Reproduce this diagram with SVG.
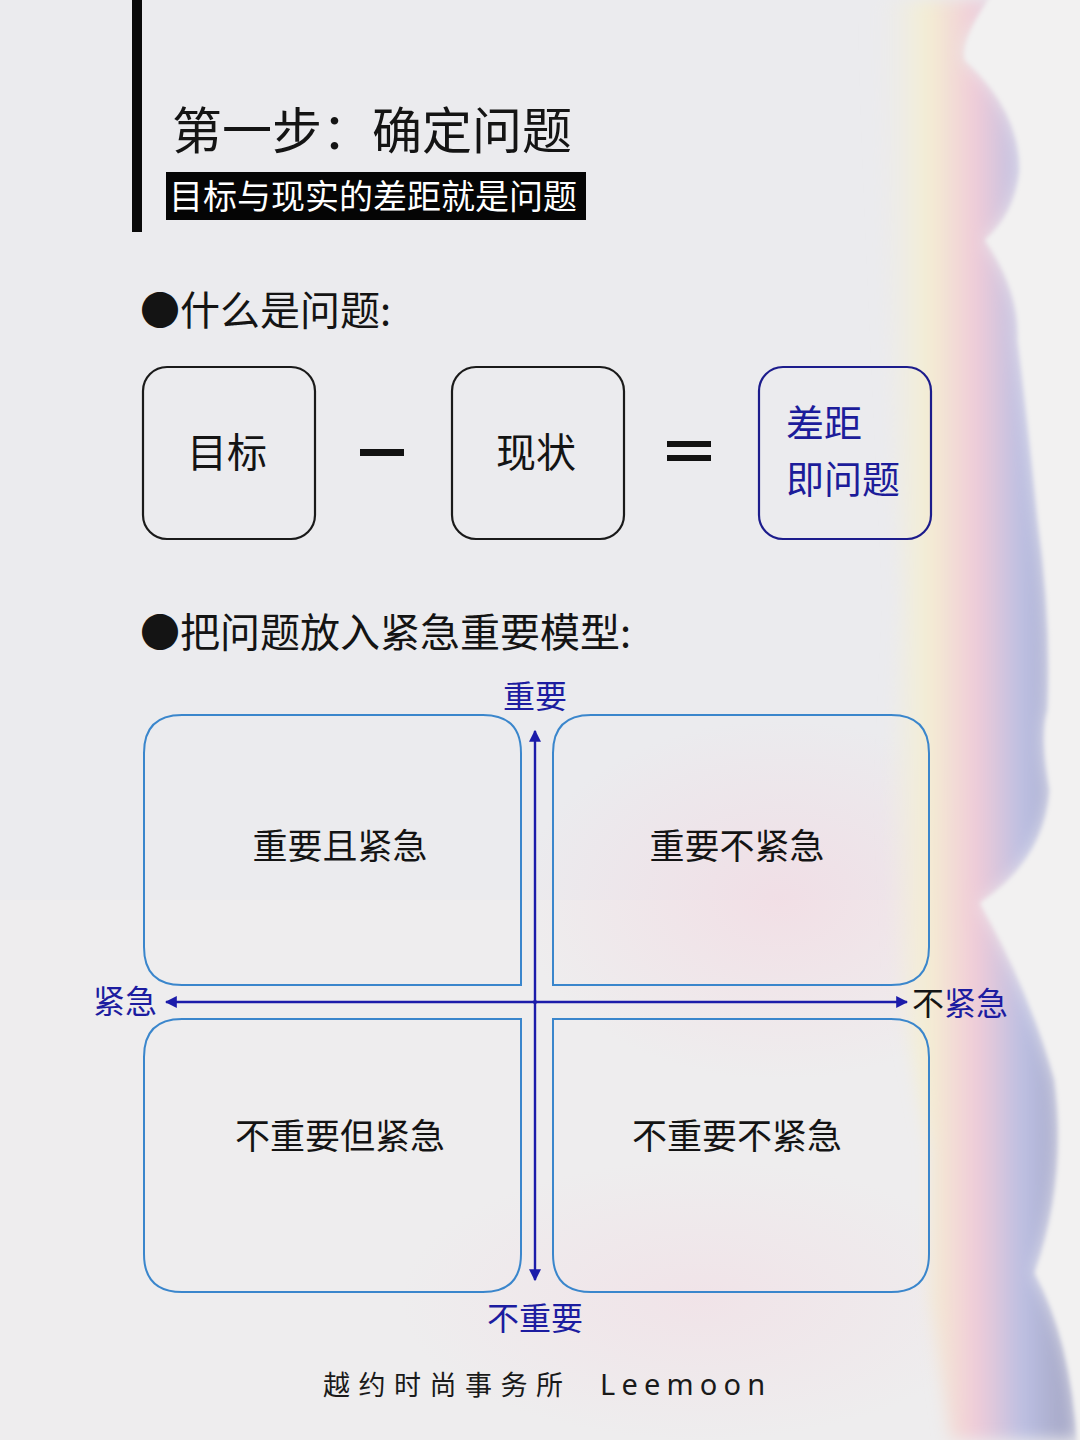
<svg xmlns="http://www.w3.org/2000/svg" width="1080" height="1440" viewBox="0 0 1080 1440">
  <defs>
    <style>
      .cjk { font-family: "Noto Sans CJK SC", "Noto Sans", sans-serif; }
      .step-box { fill: none; stroke: #1a1a1a; stroke-width: 2.2; }
      .result-box { fill: none; stroke: #1c1c8c; stroke-width: 2.2; }
      .quad { fill: none; stroke: #3a86cc; stroke-width: 2; }
      .axis { stroke: #1c1caa; stroke-width: 2.4; fill: none; }
      .qlabel { font-size: 35px; fill: #141414; text-anchor: middle; }
      .alabel { font-size: 32px; fill: #1c1ca0; }
      .op { fill: #111; }
    </style>
    <linearGradient id="iris" gradientUnits="userSpaceOnUse" x1="870" y1="0" x2="1060" y2="0">
      <stop offset="0" stop-color="#ecebee" stop-opacity="0"/>
      <stop offset="0.3" stop-color="#f6efcc" stop-opacity="0.8"/>
      <stop offset="0.55" stop-color="#f1c6d4" stop-opacity="0.85"/>
      <stop offset="0.8" stop-color="#b9bde2" stop-opacity="0.95"/>
      <stop offset="1" stop-color="#a9abca"/>
    </linearGradient>
    <radialGradient id="pinkglow" cx="0.5" cy="0.5" r="0.5">
      <stop offset="0" stop-color="#f4d6e0" stop-opacity="0.6"/>
      <stop offset="1" stop-color="#f4d6e0" stop-opacity="0"/>
    </radialGradient>
    <filter id="soft" x="-10%" y="-10%" width="120%" height="120%">
      <feGaussianBlur stdDeviation="8"/>
    </filter>
    <filter id="edge" x="-10%" y="-5%" width="120%" height="110%">
      <feGaussianBlur stdDeviation="2"/>
    </filter>
    <marker id="tri" viewBox="0 0 10 10" refX="9" refY="5" markerWidth="5" markerHeight="5" orient="auto-start-reverse" markerUnits="strokeWidth">
      <path d="M0,0 L10,5 L0,10 z" fill="#1c1caa"/>
    </marker>
  </defs>

  <!-- background -->
  <rect x="0" y="0" width="1080" height="1440" fill="#ebebee"/>
  <rect x="0" y="900" width="1080" height="540" fill="#efeeee" opacity="0.7"/>
  <ellipse cx="780" cy="900" rx="260" ry="180" fill="url(#pinkglow)"/>
  <ellipse cx="700" cy="1300" rx="300" ry="140" fill="url(#pinkglow)" opacity="0.7"/>
  <g filter="url(#soft)">
    <path d="M870,0 L995,0 Q960,40 965,60 Q1020,110 1020,170 Q1015,215 985,240 Q1020,290 1018,340 Q1028,420 1038,520 Q1052,620 1048,710 Q1040,735 1050,790 Q1045,860 980,903 Q1030,990 1055,1080 Q1068,1180 1035,1273 Q1072,1340 1078,1440 L950,1440 L930,1300 L930,1150 L900,1000 L890,800 L900,600 L890,400 L880,200 Z" fill="url(#iris)"/>
  </g>
  <path filter="url(#edge)" d="M995,-10 Q960,40 965,60 Q1020,110 1020,170 Q1015,215 985,240 Q1020,290 1018,340 Q1028,420 1038,520 Q1052,620 1048,710 Q1040,735 1050,790 Q1045,860 980,903 Q1030,990 1055,1080 Q1068,1180 1035,1273 Q1072,1340 1078,1450 L1090,1450 L1090,-10 Z" fill="#f2f1f1"/>

  <!-- header -->
  <g id="header">
    <rect x="132" y="0" width="10" height="232" fill="#0a0a0a"/>
    <text class="cjk" x="172" y="149" font-size="50" fill="#141414">第一步：确定问题</text>
    <rect x="166" y="172" width="420" height="48" fill="#050505"/>
    <text class="cjk" x="169" y="209" font-size="34" fill="#ffffff">目标与现实的差距就是问题</text>
  </g>

  <!-- section 1 -->
  <g id="section1-title">
    <text class="cjk" x="140" y="325" font-size="40" fill="#141414">●什么是问题:</text>
  </g>

  <g id="node-goal">
    <rect class="step-box" x="143" y="367" width="172" height="172" rx="24"/>
    <text class="cjk" x="227" y="467" font-size="40" fill="#141414" text-anchor="middle">目标</text>
  </g>
  <g id="op-minus">
    <rect class="op" x="360" y="449" width="44" height="7"/>
  </g>
  <g id="node-status">
    <rect class="step-box" x="452" y="367" width="172" height="172" rx="24"/>
    <text class="cjk" x="536" y="467" font-size="40" fill="#141414" text-anchor="middle">现状</text>
  </g>
  <g id="op-equals">
    <rect class="op" x="667" y="441" width="44" height="6"/>
    <rect class="op" x="667" y="455" width="44" height="6"/>
  </g>
  <g id="node-gap">
    <rect class="result-box" x="759" y="367" width="172" height="172" rx="24"/>
    <text class="cjk" x="786" y="437" font-size="38" fill="#1c1c9a">差距</text>
    <text class="cjk" x="786" y="493" font-size="38" fill="#1c1c9a">即问题</text>
  </g>

  <!-- section 2 -->
  <g id="section2-title">
    <text class="cjk" x="140" y="647" font-size="40" fill="#141414">●把问题放入紧急重要模型:</text>
  </g>

  <g id="quad-tl">
    <path class="quad" d="M521,985 L521,753 Q521,715 483,715 L182,715 Q144,715 144,753 L144,947 Q144,985 182,985 Z"/>
    <text class="cjk qlabel" x="340" y="859">重要且紧急</text>
  </g>
  <g id="quad-tr">
    <path class="quad" d="M553,985 L553,753 Q553,715 591,715 L891,715 Q929,715 929,753 L929,947 Q929,985 891,985 Z"/>
    <text class="cjk qlabel" x="737" y="859">重要不紧急</text>
  </g>
  <g id="quad-bl">
    <path class="quad" d="M521,1019 L521,1254 Q521,1292 483,1292 L182,1292 Q144,1292 144,1254 L144,1057 Q144,1019 182,1019 Z"/>
    <text class="cjk qlabel" x="340" y="1149">不重要但紧急</text>
  </g>
  <g id="quad-br">
    <path class="quad" d="M553,1019 L553,1254 Q553,1292 591,1292 L891,1292 Q929,1292 929,1254 L929,1057 Q929,1019 891,1019 Z"/>
    <text class="cjk qlabel" x="737" y="1149">不重要不紧急</text>
  </g>

  <g id="connectors">
    <line class="axis" x1="535" y1="1004" x2="535" y2="731" marker-end="url(#tri)"/>
    <line class="axis" x1="535" y1="1000" x2="535" y2="1280" marker-end="url(#tri)"/>
    <line class="axis" x1="537" y1="1002" x2="166" y2="1002" marker-end="url(#tri)"/>
    <line class="axis" x1="533" y1="1002" x2="907" y2="1002" marker-end="url(#tri)"/>
  </g>

  <g id="axis-labels">
    <text class="cjk alabel" x="535" y="708" text-anchor="middle">重要</text>
    <text class="cjk alabel" x="535" y="1330" text-anchor="middle">不重要</text>
    <text class="cjk alabel" x="93" y="1013">紧急</text>
    <text class="cjk alabel" x="912" y="1015"><tspan fill="#141414">不</tspan>紧急</text>
  </g>

  <g id="footer">
    <text class="cjk" x="323" y="1395" font-size="27" fill="#1a1a1a" letter-spacing="8.5">越约时尚事务所</text>
    <text x="600" y="1395" font-family="Noto Sans, Liberation Sans, sans-serif" font-size="29" fill="#1a1a1a" letter-spacing="6.2">Leemoon</text>
  </g>
</svg>
